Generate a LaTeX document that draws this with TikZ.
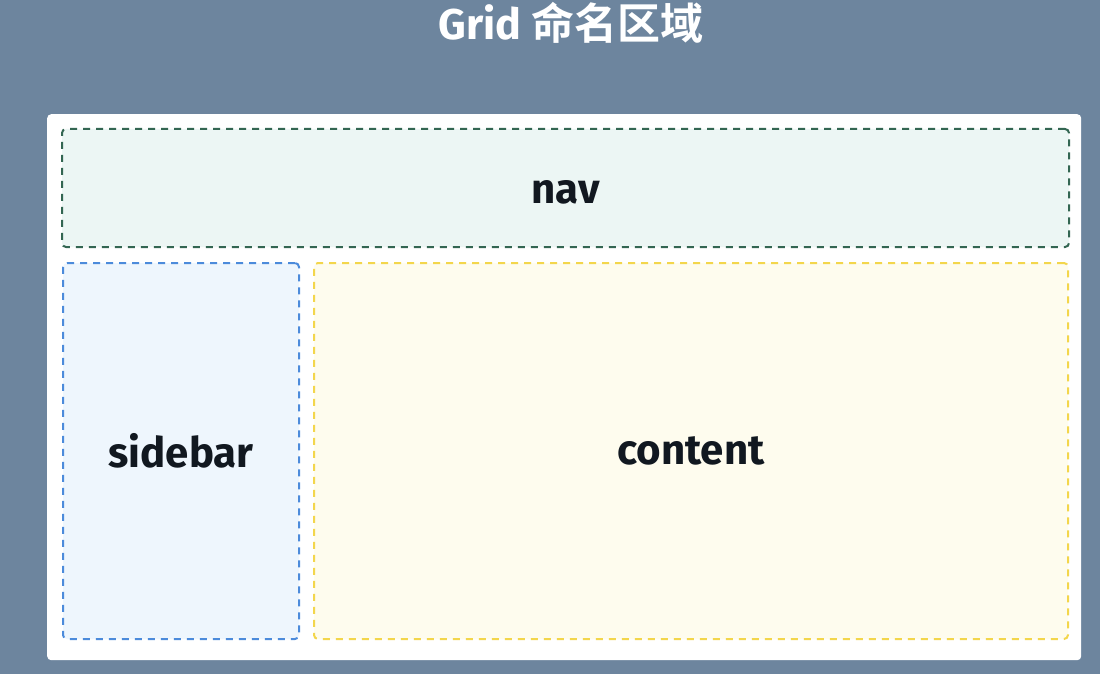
\documentclass[tikz,border=0pt]{standalone}
\usepackage{fontspec}
\setmainfont{Fira Sans}
\newfontfamily\labelfont{Fira Sans}[UprightFont=* Bold]
\newfontfamily\cjkfont{Noto Sans CJK SC}[UprightFont=* Bold]
\definecolor{bgslate}{HTML}{6D859E}
\definecolor{navfill}{HTML}{ECF6F4}
\definecolor{navline}{HTML}{336652}
\definecolor{sidefill}{HTML}{EEF6FD}
\definecolor{sideline}{HTML}{4C8BDB}
\definecolor{contfill}{HTML}{FEFCEE}
\definecolor{contline}{HTML}{F3D64C}
\definecolor{txtdark}{HTML}{111820}
\tikzset{
  area/.style={rounded corners=4pt, line width=2pt, dash pattern=on 7pt off 6pt},
  arealabel/.style={font=\labelfont\fontsize{42}{46}\selectfont, text=txtdark, inner sep=0pt}
}
\begin{document}
\begin{tikzpicture}[x=1pt,y=-1pt]
\fill[bgslate] (0,0) rectangle (1100,674);
\useasboundingbox (0,0) rectangle (1100,674);
\node[font=\labelfont\fontsize{43}{48}\selectfont, text=white, inner sep=0pt, anchor=center] (title) at (571,23) {Grid {\cjkfont 命名区域}};
\node[fill=white, rounded corners=4pt, minimum width=1034pt, minimum height=546pt, inner sep=0pt, anchor=north west] (panel) at (47,114) {};
\node[area, draw=navline, fill=navfill, minimum width=1007pt, minimum height=118pt, anchor=north west] (navbox) at (61,128) {};
\node[area, draw=sideline, fill=sidefill, minimum width=236pt, minimum height=376pt, anchor=north west] (sidebox) at (62,262) {};
\node[area, draw=contline, fill=contfill, minimum width=754pt, minimum height=376pt, anchor=north west] (contbox) at (313,262) {};
\node[arealabel] (navlabel) at ([yshift=-4pt]navbox.center) {nav};
\node[arealabel] (sidelabel) at (sidebox.center) {sidebar};
\node[arealabel] (contlabel) at (contbox.center) {content};
\end{tikzpicture}
\end{document}
